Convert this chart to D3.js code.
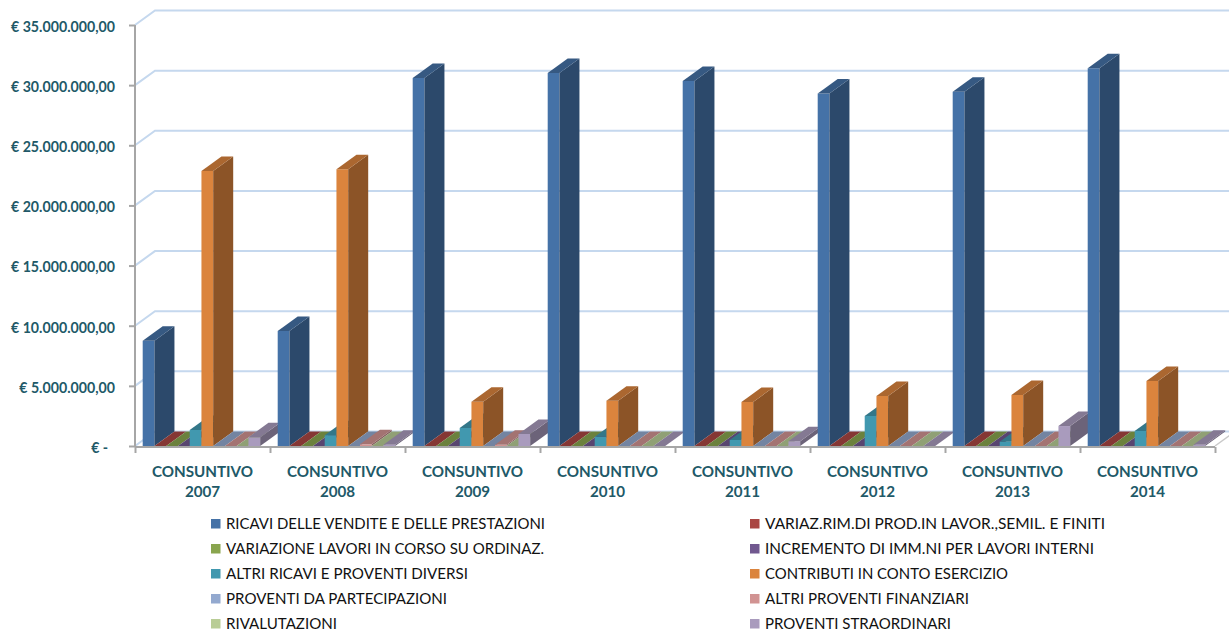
<!DOCTYPE html>
<html><head><meta charset="utf-8">
<script src="https://cdn.jsdelivr.net/npm/d3@7"></script>
<style>html,body{margin:0;padding:0;background:#fff;overflow:hidden}svg{display:block;font-family:Lato,"Open Sans",sans-serif}</style>
</head><body><svg id="c" width="1229" height="632"></svg>
<script>
const categories = ["CONSUNTIVO 2007","CONSUNTIVO 2008","CONSUNTIVO 2009","CONSUNTIVO 2010","CONSUNTIVO 2011","CONSUNTIVO 2012","CONSUNTIVO 2013","CONSUNTIVO 2014"];
const seriesNames = ["RICAVI DELLE VENDITE E DELLE PRESTAZIONI","VARIAZ.RIM.DI PROD.IN LAVOR.,SEMIL. E FINITI","VARIAZIONE LAVORI IN CORSO SU ORDINAZ.","INCREMENTO DI IMM.NI PER LAVORI INTERNI","ALTRI RICAVI E PROVENTI DIVERSI","CONTRIBUTI IN CONTO ESERCIZIO","PROVENTI DA PARTECIPAZIONI","ALTRI PROVENTI FINANZIARI","RIVALUTAZIONI","PROVENTI STRAORDINARI"];
const ricavi       = [8750000,9560000,30600000,31000000,30350000,29300000,29450000,31400000];
const variazRim    = [0,0,0,0,0,0,0,0];
const variazLavori = [0,0,0,0,0,0,0,0];
const incremento   = [0,0,0,0,0,0,0,0];
const altriRicavi  = [1330000,900000,1500000,770000,500000,2500000,360000,1250000];
const contributi   = [22860000,23000000,3680000,3770000,3660000,4160000,4240000,5400000];
const partecip     = [0,0,0,0,0,0,0,0];
const finanziari   = [0,140000,100000,0,0,0,0,0];
const rivalutaz    = [0,0,0,0,0,0,0,0];
const straordinari = [720000,100000,1000000,0,400000,0,1660000,100000];
const seriesValues = [ricavi,variazRim,variazLavori,incremento,altriRicavi,contributi,partecip,finanziari,rivalutaz,straordinari];
const colors = ["#4572A7","#AA4643","#89A54E","#71588F","#4198AF","#DB843D","#93A9CF","#D19392","#B9CD96","#A99BBD"];
const tickValues = [0,5000000,10000000,15000000,20000000,25000000,30000000,35000000];
const tickLabels = ["€ -\u00A0\u00A0","€ 5.000.000,00","€ 10.000.000,00","€ 15.000.000,00","€ 20.000.000,00","€ 25.000.000,00","€ 30.000.000,00","€ 35.000.000,00"];

const svg = d3.select("#c");
const depthX = 20, depthY = -14.5;
const teal = "#215968", gray = "#A6A6A6", gridCol = "#C5D8EE";
const legendTextWidths = [319,340,318,329,242,243,221,204,111,186];
const y = d3.scaleLinear().domain([0,35000000]).range([446,25]);
const x = d3.scaleBand().domain(categories).range([135,1215]);
const inner = d3.scaleBand().domain(seriesNames).range([7.7,125.2]);
const boundary = d3.scaleLinear().domain([0,categories.length]).range([135,1215]);

// walls
const grid = svg.append("g").attr("fill","none").attr("stroke",gridCol).attr("stroke-width",2);
tickValues.forEach(v=>{
  grid.append("polyline").attr("points",[[135,y(v)],[135+depthX,y(v)+depthY],[1229,y(v)+depthY]].join(" "));
});
svg.append("line").attr("x1",1215).attr("y1",446).attr("x2",1215+depthX).attr("y2",446+depthY).attr("stroke","#C9C9C9").attr("stroke-width",1.5);

// axes
const gy = svg.append("g").attr("transform","translate(135,0)").call(
  d3.axisLeft(y).tickValues(tickValues).tickSize(6).tickPadding(14).tickFormat((d,i)=>tickLabels[i]));
gy.selectAll("path,line").attr("stroke",gray).attr("stroke-width",2);
gy.select("path").attr("d","M0,25V446");
gy.selectAll("text").attr("fill",teal).attr("font-size",14.2).attr("font-weight",700).attr("dy","0.45em").attr("font-family","Lato");

const gx = svg.append("g").attr("transform","translate(0,447)").call(
  d3.axisBottom(boundary).ticks(categories.length).tickSize(6).tickFormat(""));
gx.selectAll("path,line").attr("stroke",gray).attr("stroke-width",2);
gx.select("path").attr("d","M135,0H1215");

// bars, painted left to right
const shade=(c,f)=>{const r=d3.rgb(c);return d3.rgb(r.r*f,r.g*f,r.b*f).formatHex();};
const bars = svg.append("g");
categories.forEach((cat,ci)=>{
  seriesNames.forEach((name,si)=>{
    const x0 = x(cat)+inner(name), x1 = x0+inner.bandwidth();
    const yt = y(seriesValues[si][ci]), yb = y(0);
    const c = colors[si];
    const g = bars.append("g");
    if(yb-yt>0.01){
      g.append("polygon").attr("fill",c).attr("points",[[x0,yt],[x1,yt],[x1,yb],[x0,yb]].join(" "));
      g.append("polygon").attr("fill",shade(c,0.64)).attr("points",[[x1,yt],[x1+depthX,yt+depthY],[x1+depthX,yb+depthY],[x1,yb]].join(" "));
    }
    g.append("polygon").attr("fill",shade(c,0.78)).attr("points",[[x0,yt],[x1,yt],[x1+depthX,yt+depthY],[x0+depthX,yt+depthY]].join(" "));
  });
});

// category labels
const labels = svg.append("g").attr("text-anchor","middle").attr("fill",teal).attr("font-size",15.2).attr("font-weight",700);
categories.forEach(cat=>{
  const cx = x(cat)+x.bandwidth()/2, parts = cat.split(" ");
  labels.append("text").attr("x",cx).attr("y",476.5).text(parts[0]);
  labels.append("text").attr("x",cx).attr("y",496.5).text(parts[1]);
});

// legend
const legend = svg.append("g").attr("font-size",15.1).attr("fill","#111");
seriesNames.forEach((name,i)=>{
  const col=i%2, row=Math.floor(i/2), lx=col?750:211, ly=523.5+row*25;
  legend.append("rect").attr("x",lx).attr("y",ly-4.5).attr("width",9.5).attr("height",9.5).attr("fill",colors[i]);
  legend.append("text").attr("x",lx+15).attr("y",ly+5).attr("textLength",legendTextWidths[i]).attr("lengthAdjust","spacingAndGlyphs").text(name);
});
</script></body></html>
